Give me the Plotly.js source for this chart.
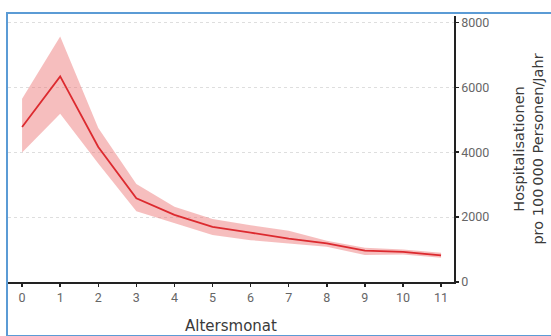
<!DOCTYPE html>
<html>
<head>
<meta charset="utf-8">
<script src="https://cdn.plot.ly/plotly-3.0.1.min.js"></script>
<style>
  html, body { margin: 0; padding: 0; background: #fff; }
  #chart { width: 551px; height: 336px; position: absolute; left: 0; top: 0; }
  #frame { position: absolute; left: 6px; top: 12px; width: 560px; height: 321px;
           border: 2px solid #5b9bd5; pointer-events: none; }
</style>
</head>
<body>
<div id="chart"></div>
<div id="frame"></div>
<script>
const months = [0, 1, 2, 3, 4, 5, 6, 7, 8, 9, 10, 11];
const rate   = [4780, 6340, 4160, 2580, 2070, 1700, 1520, 1340, 1190, 965, 930, 820];
const upper  = [5650, 7570, 4750, 3020, 2320, 1940, 1750, 1580, 1270, 1055, 1005, 900];
const lower  = [3990, 5190, 3650, 2180, 1810, 1450, 1290, 1190, 1085, 830, 850, 750];
const yTicks = [0, 2000, 4000, 6000, 8000];

const bandX = months.concat(months.slice().reverse());
const bandY = upper.concat(lower.slice().reverse());

const traces = [
  {
    x: bandX, y: bandY, type: 'scatter', mode: 'lines',
    fill: 'toself', fillcolor: 'rgba(236,110,110,0.45)',
    line: { width: 0, color: 'rgba(0,0,0,0)' }, hoverinfo: 'skip', showlegend: false
  },
  {
    x: months, y: rate, type: 'scatter', mode: 'lines',
    line: { color: '#dc2a2f', width: 1.8 }, showlegend: false
  }
];

const layout = {
  width: 551, height: 336,
  margin: { l: 8, r: 97, t: 16, b: 54 },
  paper_bgcolor: '#fff', plot_bgcolor: '#fff',
  font: { family: 'Roboto, "Liberation Sans", sans-serif', color: '#555' },
  xaxis: {
    range: [-0.37, 11.34],
    tickvals: months, ticktext: months.map(String),
    ticks: 'outside', ticklen: 3, tickwidth: 1.5, tickcolor: '#222',
    showline: true, linecolor: '#222', linewidth: 1.8,
    showgrid: false, zeroline: false,
    tickfont: { size: 12.5, color: '#666' },
    title: { text: 'Altersmonat', font: { family: '"DejaVu Sans", sans-serif', size: 15, color: '#3a3a3a' }, standoff: 17 }
  },
  yaxis: {
    side: 'right',
    range: [0, 8200],
    tickvals: yTicks, ticktext: yTicks.map(String),
    ticks: 'outside', ticklen: 3, tickwidth: 1.5, tickcolor: '#222',
    showline: true, linecolor: '#222', linewidth: 1.8,
    showgrid: true, gridcolor: '#dedede', griddash: 'dot', gridwidth: 1,
    zeroline: false,
    tickfont: { size: 12.5, color: '#666' },
    title: { text: 'Hospitalisationen<br>pro 100\u2009000 Personen/Jahr', font: { family: '"DejaVu Sans", sans-serif', size: 14.5, color: '#3a3a3a' }, standoff: 25 }
  },
  showlegend: false
};

Plotly.newPlot('chart', traces, layout, { displayModeBar: false, staticPlot: true });
</script>
</body>
</html>
